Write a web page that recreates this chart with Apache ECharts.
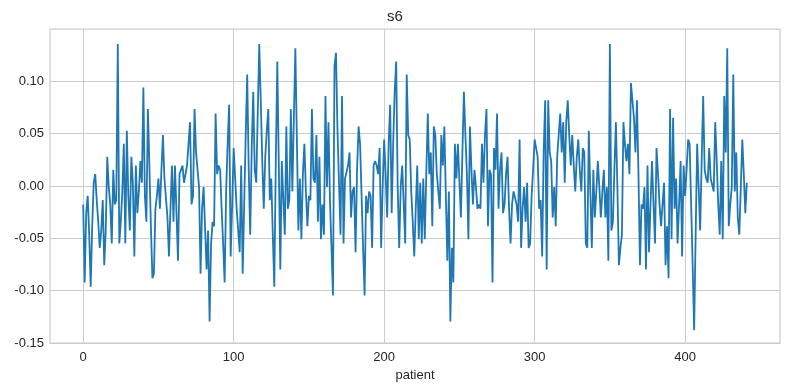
<!DOCTYPE html>
<html>
<head>
<meta charset="utf-8">
<script src="https://cdn.jsdelivr.net/npm/echarts@6/dist/echarts.min.js"></script>
<style>
html,body{margin:0;padding:0;background:#fff;}
#chart{width:790px;height:390px;}
</style>
</head>
<body>
<div id="chart"></div>
<script>
// s6 values per patient index
const s6 = [
-0.0176,-0.0922,-0.0259,-0.0094,-0.0466,-0.0963,-0.0384,0.0031,0.0113,-0.0135,
-0.0342,-0.0591,-0.0425,-0.0135,-0.0756,-0.0425,0.0279,-0.0011,-0.0176,-0.0549,
0.0155,-0.0176,-0.0135,0.1356,-0.0549,-0.0342,-0.0052,0.0403,-0.0549,0.0528,
-0.0094,-0.0425,0.0279,0.0031,-0.0674,0.0196,-0.0259,-0.0052,0.0238,0.0031,
0.0942,-0.0094,-0.0342,0.0735,0.0196,-0.0384,-0.0881,-0.0839,-0.0218,-0.0094,
0.0072,-0.0218,0.0155,0.0486,0.0072,0.0072,-0.0301,-0.0674,-0.0218,0.0196,
-0.0342,0.0196,-0.0259,-0.0715,0.0113,0.0155,0.0196,0.0031,0.0031,0.0196,
0.0403,0.0610,-0.0176,-0.0094,0.0735,0.0321,0.0155,-0.0011,-0.0839,-0.0218,
-0.0011,-0.0011,-0.0798,-0.0425,-0.1295,-0.0549,-0.0342,-0.0384,0.0693,0.0113,
0.0196,0.0155,-0.0218,-0.0549,-0.0922,-0.0052,0.0403,0.0776,-0.0674,-0.0176,
0.0362,0.0072,-0.0218,-0.0425,-0.0632,0.0196,-0.0839,-0.0176,0.0486,0.1066,
0.0155,-0.0466,0.0362,0.0900,0.0155,0.0031,0.0693,0.1356,0.0818,0.0238,
-0.0218,0.0279,0.0528,0.0735,-0.0135,0.0072,-0.0466,-0.0963,0.0238,0.1190,
0.0196,-0.0798,0.0238,-0.0135,-0.0466,0.0569,-0.0218,-0.0135,0.0735,-0.0052,
0.0652,0.1315,0.0445,-0.0425,0.0072,-0.0508,0.0113,0.0403,-0.0052,-0.0384,
-0.0094,-0.0135,0.0735,0.0072,0.0031,0.0486,-0.0342,0.0279,-0.0508,-0.0176,
-0.0466,0.0859,-0.0011,0.0610,-0.0135,-0.0135,-0.1046,0.1149,0.1273,0.0528,
0.0031,-0.0466,0.0859,-0.0549,0.0072,0.0072,0.0196,0.0321,-0.0301,-0.0052,
-0.0011,-0.0632,0.0155,0.0569,0.0403,-0.0094,-0.0591,-0.1046,-0.0094,-0.0259,
-0.0052,-0.0094,-0.0591,0.0196,0.0238,0.0196,0.0113,0.0362,-0.0591,-0.0011,
0.0445,0.0113,-0.0301,0.0403,0.0776,-0.0259,0.0403,0.0900,0.1190,-0.0011,
-0.0591,-0.0011,0.0196,-0.0176,-0.0549,0.1066,0.0486,0.0445,-0.0052,-0.0342,
-0.0674,-0.0218,0.0196,-0.0508,0.0031,-0.0549,0.0072,-0.0508,0.0113,0.0693,
0.0113,0.0321,-0.0384,0.0569,0.0486,0.0113,-0.0052,-0.0218,0.0486,0.0196,
0.0569,-0.0094,-0.0715,-0.0052,-0.1295,-0.0591,-0.0922,0.0403,0.0072,0.0403,
0.0403,-0.0301,0.0321,0.0900,0.0486,0.0113,-0.0508,0.0569,0.0155,-0.0176,
0.0155,-0.0011,-0.0218,-0.0176,-0.0218,0.0403,0.0031,0.0486,0.0735,-0.0384,
0.0155,0.0113,-0.0922,0.0362,0.0155,0.0693,-0.0218,0.0155,0.0321,-0.0259,
-0.0176,0.0113,0.0279,-0.0218,-0.0549,-0.0176,-0.0052,-0.0052,-0.0176,-0.0342,
0.0445,-0.0591,-0.0218,-0.0011,-0.0342,0.0031,-0.0591,-0.0549,-0.0094,0.0155,
0.0445,0.0362,0.0279,-0.0218,-0.0135,-0.0674,0.0321,0.0818,-0.0798,0.0818,
0.0321,0.0238,-0.0301,-0.0011,-0.0384,0.0279,0.0486,0.0693,0.0321,0.0610,
0.0031,0.0610,0.0818,0.0486,0.0196,0.0486,0.0196,-0.0052,0.0279,0.0445,
0.0155,-0.0052,0.0362,0.0321,-0.0549,-0.0591,0.0528,-0.0052,-0.0591,0.0155,
-0.0301,-0.0052,0.0238,-0.0011,-0.0301,-0.0052,0.0155,-0.0301,-0.0011,-0.0715,
0.1356,-0.0425,-0.0342,0.0155,0.0610,-0.0011,-0.0756,-0.0591,-0.0466,0.0610,
0.0403,0.0238,0.0403,0.0113,0.0983,0.0983,0.0652,0.0321,0.0818,0.0113,
-0.0756,-0.0176,-0.0218,-0.0011,-0.0798,0.0196,-0.0632,-0.0176,0.0238,-0.0176,
-0.0549,0.0362,0.0113,-0.0176,-0.0384,-0.0176,0.0031,-0.0756,-0.0384,-0.0881,
0.0735,-0.0508,0.0652,-0.0218,0.0072,-0.0549,-0.0176,0.0238,-0.0674,0.0196,
-0.0094,0.0155,0.0445,0.0403,-0.0176,-0.0756,-0.1378,-0.0466,0.0403,-0.0011,
-0.0425,0.0238,0.0859,0.0155,0.0072,0.0031,0.0362,0.0072,0.0072,-0.0052,
0.0610,0.0238,-0.0176,-0.0466,0.0238,-0.0508,0.0859,0.0321,0.1315,-0.0384,
-0.0176,-0.0011,0.1066,-0.0052,0.0321,-0.0301,-0.0466,-0.0011,0.0445,0.0113,
-0.0259,0.0031
];
const patient = s6.map((_, i) => i);
const xTicks = [0, 100, 200, 300, 400];
const yTicks = [-0.15, -0.10, -0.05, 0.00, 0.05, 0.10];
const titleText = 's6';
const xName = 'patient';

const chart = echarts.init(document.getElementById('chart'), null, {renderer: 'canvas'});
const font = '"Liberation Sans", Arial, sans-serif';
const textColor = '#262626';
const gridColor = '#cccccc';

chart.setOption({
  animation: false,
  backgroundColor: '#ffffff',
  title: {
    text: titleText,
    left: 'center',
    top: 4,
    textStyle: {fontFamily: font, fontSize: 15, fontWeight: 'normal', color: textColor}
  },
  grid: {
    left: 50, right: 10, top: 29, bottom: 47,
    show: true, borderColor: gridColor, borderWidth: 1.25, backgroundColor: 'transparent'
  },
  xAxis: {
    type: 'value',
    min: -22.05, max: 463.05,
    name: xName,
    nameLocation: 'middle',
    nameGap: 24,
    nameTextStyle: {fontFamily: font, fontSize: 13, color: textColor},
    axisLine: {show: false},
    axisTick: {show: false, customValues: xTicks},
    axisLabel: {customValues: xTicks, fontFamily: font, fontSize: 13, color: textColor, margin: 8},
    splitLine: {show: true, lineStyle: {color: gridColor, width: 1}}
  },
  yAxis: {
    type: 'value',
    min: -0.15, max: 0.15,
    axisLine: {show: false},
    axisTick: {show: false, customValues: yTicks},
    axisLabel: {
      customValues: yTicks,
      fontFamily: font, fontSize: 13, color: textColor, margin: 6,
      formatter: v => v.toFixed(2)
    },
    splitLine: {show: true, lineStyle: {color: gridColor, width: 1}}
  },
  series: [{
    type: 'line',
    data: patient.map(i => [i, s6[i]]),
    showSymbol: false,
    lineStyle: {color: '#1f77b4', width: 1.8},
    itemStyle: {color: '#1f77b4'}
  }]
});
</script>
</body>
</html>
